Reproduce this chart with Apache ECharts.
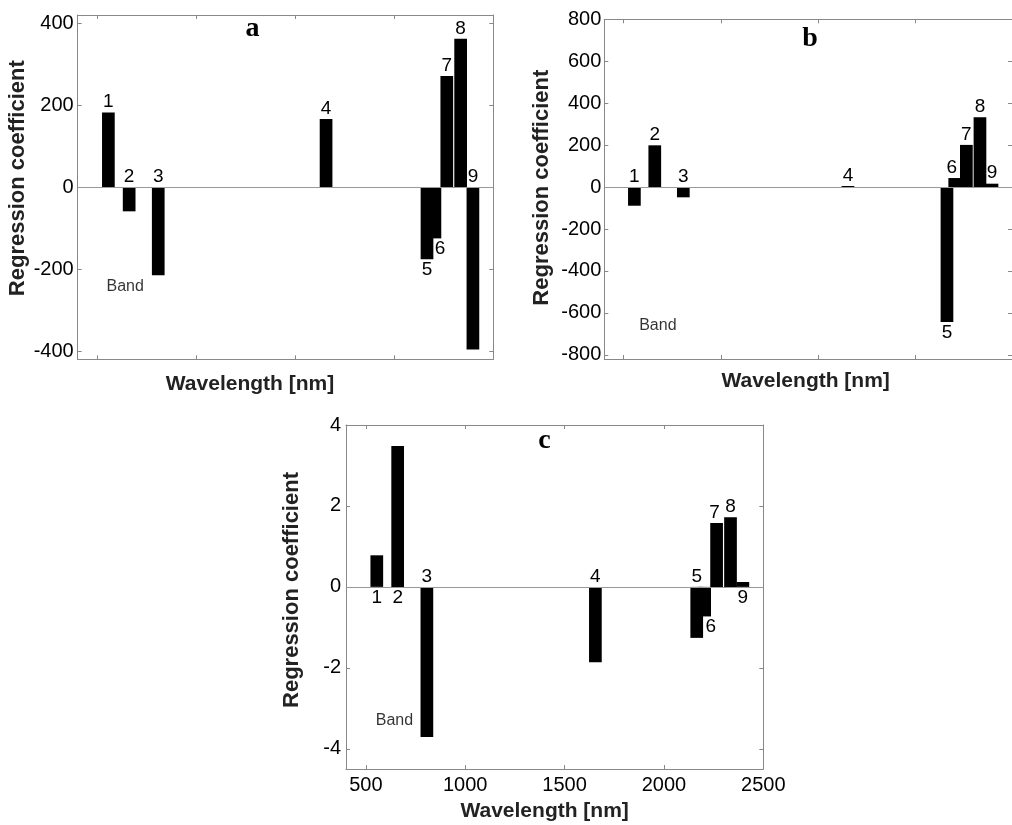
<!DOCTYPE html>
<html>
<head>
<meta charset="utf-8">
<script src="https://cdn.jsdelivr.net/npm/echarts@6/dist/echarts.min.js"></script>
<style>
  html, body { margin: 0; padding: 0; background: #fff; }
  #main { width: 1012px; height: 825px; }
</style>
</head>
<body>
<div id="main"></div>
<script>
// band numbers and their wavelengths (nm), same selection for all three panels
const bandNo = ['1', '2', '3', '4', '5', '6', '7', '8', '9'];
const wavelength = [555, 660, 807, 1655, 2165, 2205, 2265, 2335, 2397];

// regression coefficients
const coefA = [182, -59, -215, 166, -176, -125, 271, 362, -396];
const coefB = [-89, 199, -49, 5, -644, 43, 201, 333, 16];
const coefC = [0.78, 3.48, -3.71, -1.86, -1.26, -0.73, 1.58, 1.72, 0.12];

// tick labels
const wlTicks = [500, 1000, 1500, 2000, 2500];
const ticksA = [-400, -200, 0, 200, 400];
const ticksB = [-800, -600, -400, -200, 0, 200, 400, 600, 800];
const ticksC = [-4, -2, 0, 2, 4];

// where the "Band" note sits, in data units [wavelength, coefficient]
const bandNoteA = [640, -242];
const bandNoteB = [676, -660];
const bandNoteC = [644, -3.3];

const FONT = "'Liberation Sans', Arial, sans-serif";
const GRAY = '#888';

// label side of each bar number ('top' = above the bar's upper edge)
const labelPos = {
  a: ['top', 'top', 'top', 'top', 'bottom', 'bottom', 'top', 'top', 'top'],
  b: ['top', 'top', 'top', 'top', 'bottom', 'top', 'top', 'top', 'top'],
  c: ['bottom', 'bottom', 'top', 'top', 'top', 'bottom', 'top', 'top', 'bottom']
};
const labelShift = {
  a: [0, 0, 0, 0, 0, 5, 0, 0, 0],
  b: [0, 0, 0, 0, 0, -3, 0, 0, 0],
  c: [0, 0, 0, 0, 0, 6, -2, 0, 0]
};

const panels = [
  { key: 'a', coef: coefA, ticks: ticksA, min: -420, max: 420, note: bandNoteA,
    grid: { left: 77.7, top: 15, width: 415.6, height: 344.3 },
    yGap: 49, yPad: [0, 0, 0, 18], yMargin: 4,
    xGap: 14, xPad: [0, 71, 0, 0], xLabels: false },
  { key: 'b', coef: coefB, ticks: ticksB, min: -820, max: 800, note: bandNoteB,
    grid: { left: 604.3, top: 19.3, width: 417, height: 339.7 },
    yGap: 51, yPad: [0, 0, 0, 3], yMargin: 3,
    xGap: 12, xPad: [0, 5, 0, 0], xLabels: false },
  { key: 'c', coef: coefC, ticks: ticksC, min: -4.5, max: 4, note: bandNoteC,
    grid: { left: 346, top: 425, width: 417.3, height: 344 },
    yGap: 43, yPad: [0, 0, 0, 14], yMargin: 5,
    xGap: 32, xPad: [0, 20, 0, 0], xLabels: true }
];

const grids = [], xAxes = [], yAxes = [], series = [];
const plain = function (v) { return String(v); };

panels.forEach(function (p, i) {
  grids.push(p.grid);

  const tick = { show: true, inside: true, length: 4, lineStyle: { color: GRAY }, customValues: wlTicks };
  const line = { show: true, onZero: false, lineStyle: { color: GRAY, width: 1 } };

  xAxes.push({
    type: 'value', gridIndex: i, position: 'bottom', min: 400, max: 2500,
    axisLine: line, axisTick: tick, splitLine: { show: false },
    axisLabel: {
      show: p.xLabels, customValues: wlTicks, margin: 6, formatter: plain,
      color: '#000', fontSize: 20, fontFamily: FONT
    },
    name: 'Wavelength [nm]', nameLocation: 'middle', nameGap: p.xGap,
    nameTextStyle: { fontSize: 21, fontWeight: 'bold', color: '#222', fontFamily: FONT, padding: p.xPad }
  });
  xAxes.push({
    type: 'value', gridIndex: i, position: 'top', min: 400, max: 2500,
    axisLine: line, axisTick: tick, splitLine: { show: false }, axisLabel: { show: false }
  });

  const yTick = { show: true, inside: true, length: 4, lineStyle: { color: GRAY }, customValues: p.ticks };
  yAxes.push({
    type: 'value', gridIndex: i, position: 'left', min: p.min, max: p.max,
    axisLine: line, axisTick: yTick, splitLine: { show: false },
    axisLabel: {
      customValues: p.ticks, margin: p.yMargin, formatter: plain,
      color: '#000', fontSize: 20, fontFamily: FONT
    },
    name: 'Regression coefficient', nameLocation: 'middle', nameGap: p.yGap,
    nameTextStyle: { fontSize: 22, fontWeight: 'bold', color: '#222', fontFamily: FONT, padding: p.yPad }
  });
  yAxes.push({
    type: 'value', gridIndex: i, position: 'right', min: p.min, max: p.max,
    axisLine: line, axisTick: yTick, splitLine: { show: false }, axisLabel: { show: false }
  });

  series.push({
    type: 'bar',
    xAxisIndex: i * 2, yAxisIndex: i * 2,
    barWidth: 12.7,
    itemStyle: { color: '#000' },
    label: {
      show: true, distance: 1, fontSize: 19, fontFamily: FONT, color: '#000',
      formatter: function (prm) { return bandNo[prm.dataIndex]; }
    },
    data: wavelength.map(function (w, k) {
      return {
        value: [w, p.coef[k]],
        label: { position: labelPos[p.key][k], offset: [labelShift[p.key][k], 0] }
      };
    }),
    markLine: {
      silent: true, symbol: 'none', animation: false,
      label: { show: false },
      lineStyle: { color: '#999', type: 'solid', width: 1 },
      data: [{ yAxis: 0 }]
    }
  });

  series.push({
    type: 'scatter',
    xAxisIndex: i * 2, yAxisIndex: i * 2,
    symbolSize: 0,
    label: {
      show: true, position: 'inside', formatter: 'Band',
      fontSize: 16, fontFamily: FONT, color: '#000'
    },
    emphasis: { disabled: true },
    data: [p.note]
  });
});

const chart = echarts.init(document.getElementById('main'), null, { renderer: 'canvas' });
chart.setOption({
  animation: false,
  backgroundColor: '#fff',
  grid: grids,
  xAxis: xAxes,
  yAxis: yAxes,
  series: series,
  graphic: [
    { type: 'text', x: 252.5, y: 28.5, style: { text: 'a', fontSize: 28, fontWeight: 'bold', fontFamily: "'Liberation Serif', 'Times New Roman', serif", fill: '#000', textAlign: 'center', textVerticalAlign: 'middle' } },
    { type: 'text', x: 810, y: 38.8, style: { text: 'b', fontSize: 28, fontWeight: 'bold', fontFamily: "'Liberation Serif', 'Times New Roman', serif", fill: '#000', textAlign: 'center', textVerticalAlign: 'middle' } },
    { type: 'text', x: 544.5, y: 440.5, style: { text: 'c', fontSize: 28, fontWeight: 'bold', fontFamily: "'Liberation Serif', 'Times New Roman', serif", fill: '#000', textAlign: 'center', textVerticalAlign: 'middle' } }
  ]
});
</script>
</body>
</html>
